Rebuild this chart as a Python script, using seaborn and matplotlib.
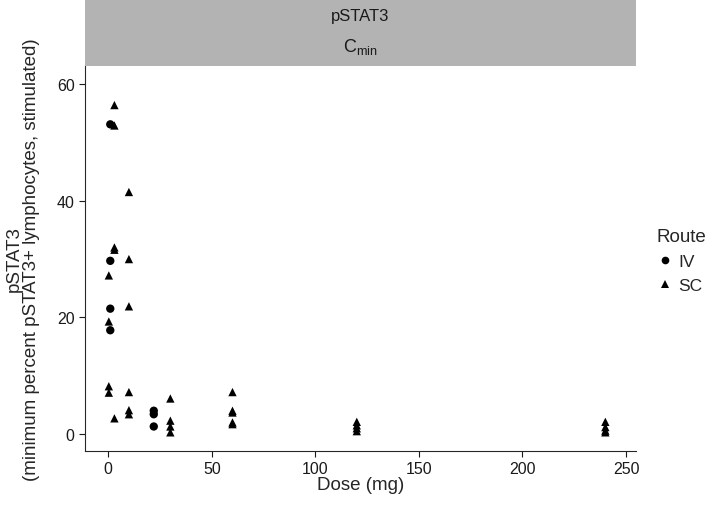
import matplotlib
matplotlib.use("Agg")
import matplotlib.pyplot as plt
import seaborn as sns
import pandas as pd

# -----------------------------
# Data
# -----------------------------
iv_dose = [1, 1, 1, 1, 22, 22, 22]
iv_value = [53.1, 29.7, 21.5, 17.8, 4.0, 3.4, 1.3]

sc_dose = [3, 3, 3, 3, 10, 10, 0.3, 10, 0.3, 0.3, 0.3, 10, 3, 10, 10,
           30, 30, 30, 30, 60, 60, 60, 60, 60,
           120, 120, 120, 120, 240, 240, 240, 240]
sc_value = [56.4, 52.9, 32.0, 31.6, 41.5, 30.0, 27.2, 21.9, 19.3, 8.2, 7.1, 7.2, 2.7, 4.1, 3.4,
            6.1, 2.3, 1.3, 0.3, 7.2, 4.0, 3.7, 2.0, 1.7,
            2.1, 1.5, 1.0, 0.5, 2.1, 1.2, 0.6, 0.3]

x_ticks = [0, 50, 100, 150, 200, 250]
y_ticks = [0, 20, 40, 60]

df = pd.DataFrame({
    "Dose": iv_dose + sc_dose,
    "Value": iv_value + sc_value,
    "Route": ["IV"] * len(iv_dose) + ["SC"] * len(sc_dose),
})

# Plot Style
sns.set_style("ticks")
plt.rcParams["font.family"] = ["Liberation Sans", "DejaVu Sans"]
plt.rcParams["mathtext.fontset"] = "custom"
plt.rcParams["mathtext.rm"] = "Liberation Sans"
plt.rcParams["mathtext.it"] = "Liberation Sans:italic"

fig = plt.figure(figsize=(7.09, 5.06), dpi=100)
W, H = 709, 506
left, right, top, bottom = 85, 636, 67, 452
ax = fig.add_axes([left / W, 1 - bottom / H, (right - left) / W, (bottom - top) / H])

sns.scatterplot(
    data=df, x="Dose", y="Value", style="Route",
    markers={"IV": "o", "SC": "^"}, color="black",
    s=36, linewidth=0, ax=ax, legend=True,
)

ax.set_xlim(-11.2, 254.8)
ax.set_ylim(-2.9, 63.1)
ax.set_xticks(x_ticks)
ax.set_yticks(y_ticks)
ax.tick_params(labelsize=11.5, colors="#1a1a1a", length=4, width=0.8)
for s in ["top", "right"]:
    ax.spines[s].set_visible(False)
for s in ["left", "bottom"]:
    ax.spines[s].set_linewidth(0.8)

ax.set_xlabel("Dose (mg)", fontsize=13.5, labelpad=0)
ax.set_ylabel("pSTAT3\n(minimum percent pSTAT3+ lymphocytes, stimulated)",
              fontsize=13.5, labelpad=12, linespacing=1.0)

# Legend
handles, labels = ax.get_legend_handles_labels()
for h in handles:
    h.set_markersize(5.5)
leg = ax.legend(handles, labels, title="Route", loc="upper left",
                bbox_to_anchor=(656 / W, 1 - 229 / H), bbox_transform=fig.transFigure,
                frameon=False, fontsize=12.5, title_fontsize=13.5,
                handletextpad=0.3, borderaxespad=0, labelspacing=0.5,
                handlelength=1.0, alignment="left", borderpad=0)

# Facet strip
strip = fig.add_axes([left / W, 1 - top / H, (right - left) / W, top / H])
strip.set_facecolor("#b3b3b3")
strip.set_xticks([])
strip.set_yticks([])
for s in strip.spines.values():
    s.set_visible(False)
strip.text(0.5, 1 - 17 / top, "pSTAT3", ha="center", va="center",
           fontsize=12, color="#1a1a1a", transform=strip.transAxes)
strip.text(0.5, 1 - 47 / top, r"$\mathregular{C_{min}}$", ha="center", va="center",
           fontsize=13, color="#1a1a1a", transform=strip.transAxes)

plt.savefig("out.png", dpi=100)
plt.close()
